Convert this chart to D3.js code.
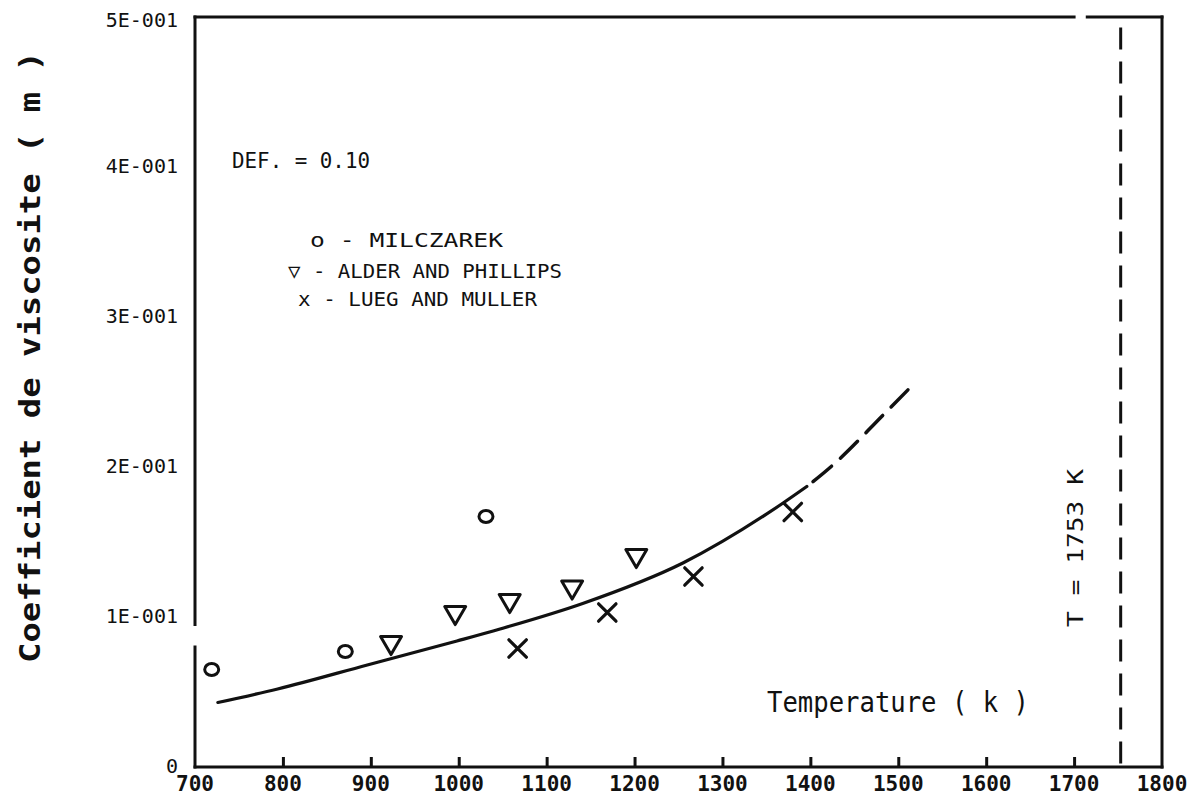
<!DOCTYPE html>
<html>
<head>
<meta charset="utf-8">
<script src="https://cdn.jsdelivr.net/npm/d3@7"></script>
<style>
  html, body { margin: 0; padding: 0; background: #fff; }
  svg { display: block; }
  text { font-family: "DejaVu Sans Mono", monospace; fill: #111; }
</style>
</head>
<body>
<div id="chart"></div>
<script>
// ---- data ----
const xTicks = [700, 800, 900, 1000, 1100, 1200, 1300, 1400, 1500, 1600, 1700, 1800];
const yTicks = [0, 0.1, 0.2, 0.3, 0.4, 0.5];
const yTickLabels = ["0", "1E-001", "2E-001", "3E-001", "4E-001", "5E-001"];

const milczarekT = [719, 871, 1031];
const milczarekV = [0.065, 0.077, 0.167];

const alderT = [923, 996, 1058, 1129, 1202];
const alderV = [0.083, 0.103, 0.111, 0.120, 0.141];

const luegT = [1067, 1169, 1267, 1380];
const luegV = [0.079, 0.103, 0.127, 0.170];

const fitT = [726, 794, 896, 998, 1047, 1141, 1255, 1369, 1396];
const fitV = [0.043, 0.052, 0.068, 0.084, 0.092, 0.109, 0.136, 0.176, 0.187];
const extT = [1396, 1425, 1485, 1517];
const extV = [0.187, 0.201, 0.236, 0.255];

const meltT = 1753;
const legendLabels = ["o - MILCZAREK", "\u25BD - ALDER AND PHILLIPS", "x - LUEG AND MULLER"];

// ---- layout ----
const W = 1198, H = 802;
const svg = d3.select("#chart").append("svg").attr("width", W).attr("height", H);
svg.append("rect").attr("width", W).attr("height", H).attr("fill", "#fff");

const x = d3.scaleLinear().domain([700, 1800]).range([195, 1162]);
const y = d3.scaleLinear().domain([0, 0.5]).range([767, 17]);

const ink = "#111";

// frame: left axis (with scan gap), bottom, right, top (with gap)
const g = svg.append("g").attr("stroke", ink).attr("stroke-width", 3).attr("fill", "none").attr("stroke-linecap", "square");
g.append("line").attr("x1", x(700)).attr("x2", x(700)).attr("y1", y(0)).attr("y2", y(0.08));
g.append("line").attr("x1", x(700)).attr("x2", x(700)).attr("y1", y(0.095)).attr("y2", y(0.5));
g.append("line").attr("x1", x(700)).attr("x2", x(1800)).attr("y1", y(0)).attr("y2", y(0));
g.append("line").attr("x1", x(1800)).attr("x2", x(1800)).attr("y1", y(0)).attr("y2", y(0.5));
g.append("line").attr("x1", x(700)).attr("x2", x(1700)).attr("y1", y(0.5)).attr("y2", y(0.5));
g.append("line").attr("x1", x(1715)).attr("x2", x(1800)).attr("y1", y(0.5)).attr("y2", y(0.5));

// x ticks (upward)
const xAxis = d3.axisTop(x).tickValues(xTicks.slice(1, -1)).tickSize(10).tickFormat("");
const xa = svg.append("g").attr("transform", `translate(0,${y(0)})`).call(xAxis);
xa.select(".domain").remove();
xa.selectAll(".tick line").attr("stroke", ink).attr("stroke-width", 3);

// x tick labels
svg.append("g").selectAll("text").data(xTicks).join("text")
  .attr("x", d => x(d)).attr("y", 791)
  .attr("text-anchor", "middle")
  .attr("font-size", 21).attr("font-weight", "bold")
  .text(d => d);

// y tick labels
svg.append("g").selectAll("text").data(yTicks).join("text")
  .attr("x", 178).attr("y", (d, i) => y(d) + (i === yTicks.length - 1 ? 4 : 0))
  .attr("text-anchor", "end").attr("dominant-baseline", "middle")
  .attr("font-size", 20)
  .text((d, i) => yTickLabels[i]);

// axis title (rotated)
svg.append("text")
  .attr("transform", "translate(40,357) rotate(-90)")
  .attr("text-anchor", "middle")
  .attr("font-size", 29).attr("font-weight", "bold")
  .attr("textLength", 612).attr("lengthAdjust", "spacingAndGlyphs")
  .text("Coefficient de viscosite ( m )");

// x title
svg.append("text")
  .attr("x", 767).attr("y", 712)
  .attr("font-size", 28)
  .attr("textLength", 262).attr("lengthAdjust", "spacingAndGlyphs")
  .text("Temperature ( k )");

// DEF annotation
svg.append("text")
  .attr("x", 232).attr("y", 168)
  .attr("font-size", 21)
  .attr("textLength", 138).attr("lengthAdjust", "spacingAndGlyphs")
  .text("DEF. = 0.10");

// legend text
const legX = [310, 288, 298];
const legY = [247, 278, 306];
const legLen = [193, 274, 239];
svg.append("g").selectAll("text").data(legendLabels).join("text")
  .attr("x", (d, i) => legX[i]).attr("y", (d, i) => legY[i])
  .attr("font-size", 20)
  .attr("textLength", (d, i) => legLen[i]).attr("lengthAdjust", "spacingAndGlyphs")
  .text(d => d);

// melting line
svg.append("line")
  .attr("x1", x(meltT)).attr("x2", x(meltT)).attr("y1", y(0.493)).attr("y2", y(0))
  .attr("stroke", ink).attr("stroke-width", 3).attr("stroke-dasharray", "22,12");
svg.append("text")
  .attr("transform", `translate(${x(meltT) - 44},548) rotate(-90)`)
  .attr("text-anchor", "middle").attr("dominant-baseline", "middle")
  .attr("font-size", 22)
  .attr("textLength", 158).attr("lengthAdjust", "spacingAndGlyphs")
  .text("T = " + meltT + " K");

// fitted curve
const line = d3.line().x(d => x(d[0])).y(d => y(d[1])).curve(d3.curveMonotoneX);
svg.append("path").datum(d3.zip(fitT, fitV)).attr("d", line)
  .attr("fill", "none").attr("stroke", ink).attr("stroke-width", 3.2).attr("stroke-linecap", "round");
svg.append("path").datum(d3.zip(extT, extV)).attr("d", line)
  .attr("fill", "none").attr("stroke", ink).attr("stroke-width", 3.5)
  .attr("stroke-dasharray", "24,12").attr("stroke-dashoffset", -8).attr("stroke-linecap", "round");

// markers
svg.append("g").selectAll("ellipse").data(d3.zip(milczarekT, milczarekV)).join("ellipse")
  .attr("cx", d => x(d[0])).attr("cy", d => y(d[1])).attr("rx", 7).attr("ry", 6)
  .attr("fill", "none").attr("stroke", ink).attr("stroke-width", 3);

const tri = d3.symbol().type(d3.symbolTriangle).size(190);
svg.append("g").selectAll("path").data(d3.zip(alderT, alderV)).join("path")
  .attr("d", tri)
  .attr("transform", d => `translate(${x(d[0])},${y(d[1])}) rotate(180)`)
  .attr("fill", "none").attr("stroke", ink).attr("stroke-width", 3).attr("stroke-linejoin", "round");

svg.append("g").selectAll("path").data(d3.zip(luegT, luegV)).join("path")
  .attr("d", d3.symbol().type(d3.symbolX).size(200))
  .attr("transform", d => `translate(${x(d[0])},${y(d[1])})`)
  .attr("fill", "none").attr("stroke", ink).attr("stroke-width", 3.2).attr("stroke-linecap", "round");
</script>
</body>
</html>
